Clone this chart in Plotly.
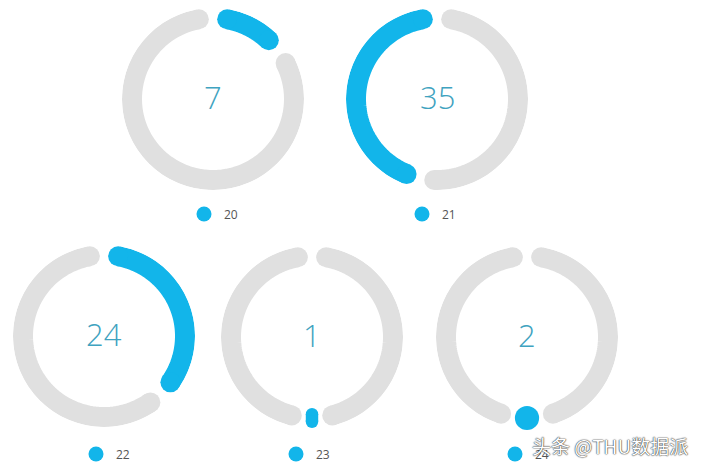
import numpy as np
import plotly.graph_objects as go

# ---- data ----
labels = ["20", "21", "22", "23", "24"]
values = [7, 35, 24, 1, 2]
rest = [40, 40, 40, 40, 40]
rest_before = [0, 40, 0, 20, 20]   # part of the grey ring drawn before the blue arc

# ---- layout / style ----
OFF = 8                      # page body margin the figure sits inside
W, H = 701 - OFF, 469 - OFF
centers = [(213, 99), (437, 99), (104, 336), (312, 337), (527, 337)]   # page px
legend_at = [(206, 214), (424, 214), (98, 454), (298, 454), (517, 454)]
R = 91          # outer radius in px
thick = 20      # ring width in px
gap = 6         # degrees left blank between arcs
blue = "#12b5ea"
grey = "#e0e0e0"
num_color = "#3fa3c0"


def px(x, y):
    # page pixel -> paper coords
    return (x - OFF) / W, 1 - (y - OFF) / H


def arc(start, end, color, sub):
    # one ring segment with round ends: thick line + end markers
    rmid_px = R - thick / 2
    rmid = rmid_px / R
    a0, a1 = start + gap / 2, end - gap / 2
    span_px = np.radians(a1 - a0) * rmid_px
    if span_px > thick:
        cap = np.degrees(thick / 2 / rmid_px)
        th = np.linspace(a0 + cap, a1 - cap, 90)
        r = np.full_like(th, rmid)
        return [
            go.Scatterpolar(r=r, theta=th, mode="lines", subplot=sub,
                            line=dict(color=color, width=thick),
                            hoverinfo="skip", showlegend=False),
            go.Scatterpolar(r=[rmid, rmid], theta=[th[0], th[-1]], mode="markers", subplot=sub,
                            marker=dict(color=color, size=thick, line=dict(width=0)),
                            hoverinfo="skip", showlegend=False),
        ]
    # too short for an arc: a small pill / dot across the ring
    w = np.radians(end - start) * rmid_px
    mid = (start + end) / 2
    if w >= thick:
        return [go.Scatterpolar(r=[rmid], theta=[mid], mode="markers", subplot=sub,
                                marker=dict(color=color, size=w, line=dict(width=0)),
                                hoverinfo="skip", showlegend=False)]
    r = [(R - thick + w / 2) / R, (R - w / 2) / R]
    return [
        go.Scatterpolar(r=r, theta=[mid, mid], mode="lines", subplot=sub,
                        line=dict(color=color, width=w),
                        hoverinfo="skip", showlegend=False),
        go.Scatterpolar(r=r, theta=[mid, mid], mode="markers", subplot=sub,
                        marker=dict(color=color, size=w, line=dict(width=0)),
                        hoverinfo="skip", showlegend=False),
    ]


fig = go.Figure()
layout = {}
annotations = []

for i in range(len(values)):
    sfx = "" if i == 0 else str(i + 1)
    sub = "polar" + sfx
    total = values[i] + rest[i]
    segs = [(rest_before[i], grey), (values[i], blue), (rest[i] - rest_before[i], grey)]
    cum = 0
    for v, col in segs:
        if v <= 0:
            continue
        s = cum / total * 360
        e = (cum + v) / total * 360
        for t in arc(s, e, col, sub):
            fig.add_trace(t)
        cum += v

    # legend entry only
    fig.add_trace(go.Scatterpolar(r=[None], theta=[None], mode="markers", subplot=sub,
                                  marker=dict(color=blue, size=15), name=labels[i],
                                  legend="legend" + sfx, showlegend=True))

    cx, cy = centers[i]
    x0, y1 = px(cx - R, cy - R)
    x1, y0 = px(cx + R, cy + R)
    layout[sub] = dict(
        domain=dict(x=[max(x0, 0), min(x1, 1)], y=[max(y0, 0), min(y1, 1)]),
        bgcolor="rgba(0,0,0,0)",
        angularaxis=dict(visible=False, rotation=90, direction="clockwise"),
        radialaxis=dict(visible=False, range=[0, 1]),
    )
    lx, ly = legend_at[i]
    gx, gy = px(lx - 22, ly)
    layout["legend" + sfx] = dict(
        x=gx, y=gy, xanchor="left", yanchor="middle",
        bgcolor="rgba(0,0,0,0)", itemwidth=30,
        font=dict(size=12, color="#555555", family="Open Sans"),
    )
    ax, ay = px(cx, cy - 2)
    annotations.append(dict(
        x=ax, y=ay, xref="paper", yref="paper", xanchor="center", yanchor="middle",
        text=str(values[i]), showarrow=False,
        font=dict(size=31, color=num_color, family="Open Sans", weight=300),
    ))

wx, wy = px(610, 445)
annotations.append(dict(
    x=wx, y=wy, xref="paper", yref="paper", xanchor="center", yanchor="middle",
    text="头条 @THU数据派", showarrow=False,
    font=dict(size=19, color="white", family="Noto Sans CJK SC",
              shadow="0 0 1.5px #222, 0 0 1px #222"),
))

fig.update_layout(
    width=W, height=H,
    margin=dict(l=0, r=0, t=0, b=0),
    paper_bgcolor="white",
    annotations=annotations,
    **layout,
)

fig.write_html("out.html")
